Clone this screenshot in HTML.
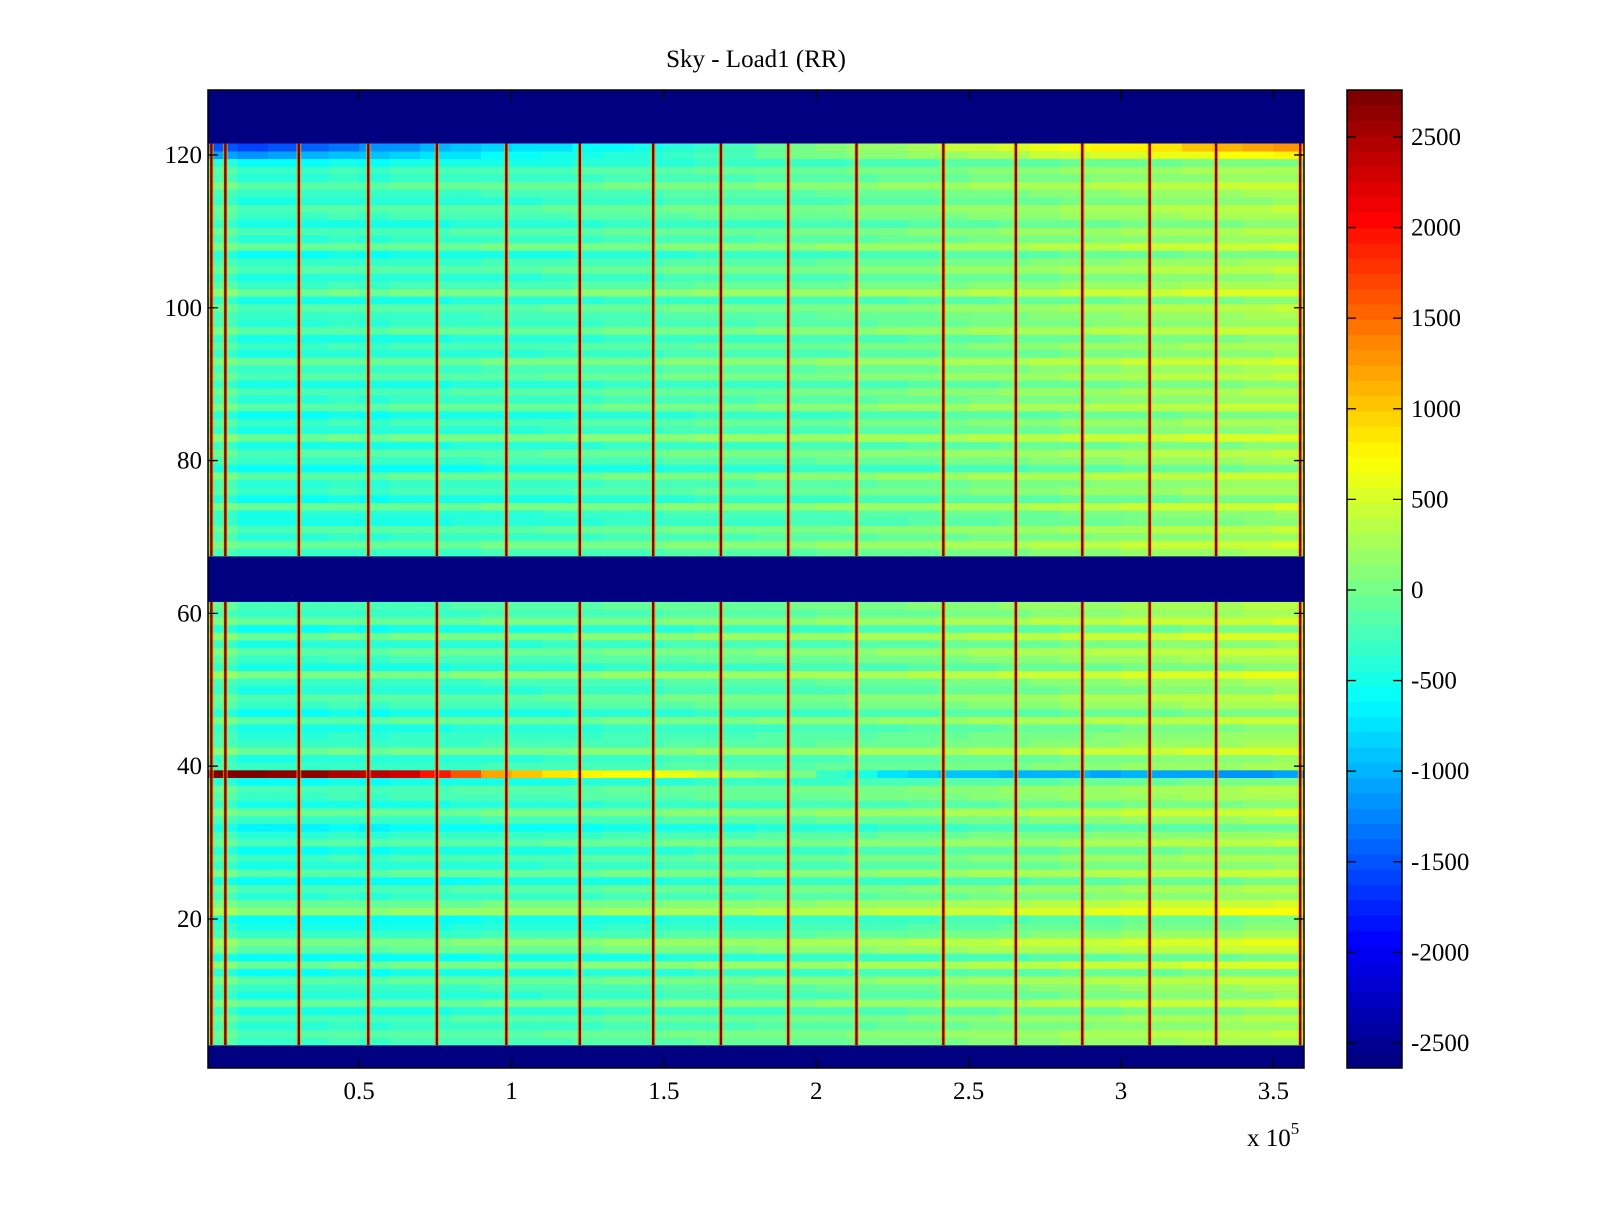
<!DOCTYPE html>
<html><head><meta charset="utf-8"><style>
body{margin:0;background:#fff;}
svg text{font-family:"Liberation Serif",serif;fill:#000;}
</style></head><body>
<svg id="fig" width="1600" height="1200" viewBox="0 0 1600 1200" xmlns="http://www.w3.org/2000/svg">
<rect width="1600" height="1200" fill="#fff"/>
<text x="756" y="67" font-size="25" text-anchor="middle">Sky - Load1 (RR)</text>
<g id="heat"></g>
<g id="axes"></g>
<g id="cbar"></g>
</svg>
<script>
// ---- data ----
const xTicks = [50000, 100000, 150000, 200000, 250000, 300000, 350000];
const xTickLabels = ["0.5", "1", "1.5", "2", "2.5", "3", "3.5"];
const yTicks = [20, 40, 60, 80, 100, 120];
const cTicks = [2500, 2000, 1500, 1000, 500, 0, -500, -1000, -1500, -2000, -2500];
const blankRows = [1, 2, 3, 62, 63, 64, 65, 66, 67, 122, 123, 124, 125, 126, 127, 128];
// column-bin trend (36 bins of 10000)
const colTrend = [-50, -200, -200, -180, -160, -180, -150, -150, -130, -120, -120, -100, -80, -50, -50, -20, 0, 0, 20, 40, 50, 80, 100, 120, 160, 180, 200, 220, 250, 270, 300, 320, 340, 360, 380, 400];
// row means, rows 4..61
const rowsLow = [-100, 0, -200, -50, -300, 100, -250, -150, 50, -350, 150, -400, 50, 200, -150, -300, -400, 300, 100, -200, -50, -400, 50, -250, -100, -350, 0, -200, -450, -150, 100, -300, -100, -50, -350, -200, -150, -250, 150, -150, -200, -300, 50, -350, -100, 0, -250, -150, 200, -300, -100, 50, -250, 150, -350, 100, -150, -50];
// row means, rows 68..121
const rowsHigh = [-150, 100, -200, 0, -300, -250, 100, -350, -100, -200, 50, -400, -150, 0, -300, 150, -250, -100, -350, 50, -200, -50, -300, 0, -150, 100, -250, -100, -300, 50, -200, -150, 0, -300, 150, -100, -250, 0, -150, -350, 100, -200, -50, -300, -100, 0, -250, -150, 50, -200, -100, -350, -500, -700];
// special rows (36 bins)
const row39 = [2700, 2700, 2600, 2600, 2500, 2400, 2300, 2000, 1600, 1200, 1000, 900, 800, 700, 700, 600, 400, 300, 200, 0, -300, -500, -700, -800, -900, -900, -1000, -1000, -1000, -1100, -1000, -1100, -1100, -1200, -1200, -1100];
const row121 = [-1500, -1600, -1500, -1400, -1300, -1200, -1200, -1000, -900, -800, -700, -700, -600, -600, -500, -400, -300, -200, -100, 0, 100, 200, 200, 300, 400, 400, 500, 600, 700, 800, 800, 900, 1000, 1100, 1200, 1300];
const row120 = [-1100, -1200, -1100, -1000, -900, -900, -800, -700, -700, -600, -600, -500, -500, -400, -400, -300, -200, -200, -100, 0, 0, 100, 100, 200, 200, 300, 300, 400, 400, 500, 500, 600, 600, 700, 700, 800];
// stripe positions (data x)
const stripes = [1500, 6100, 30200, 53000, 75500, 98300, 122400, 146500, 168700, 190800, 213200, 241700, 265500, 287300, 309400, 331200, 358800];

// ---- scales ----
const PX0 = 208, PX1 = 1304, PY0 = 90, PY1 = 1068;
const XMIN = 400, XMAX = 360050, YMIN = 0.5, YMAX = 128.5, CMIN = -2638, CMAX = 2759;
const xs = v => PX0 + (v - XMIN) / (XMAX - XMIN) * (PX1 - PX0);
const ys = v => PY0 + (YMAX - v) / (YMAX - YMIN) * (PY1 - PY0);
const CB0 = 1347, CB1 = 1402;
const cs = v => PY0 + (CMAX - v) / (CMAX - CMIN) * (PY1 - PY0);
function jet(t){
  t = Math.max(0, Math.min(1, t));
  t = Math.min(63, Math.floor(t * 64)) / 63;
  const f = x => Math.max(0, Math.min(1, x));
  const r = f(1.5 - Math.abs(4 * t - 3)), g = f(1.5 - Math.abs(4 * t - 2)), b = f(1.5 - Math.abs(4 * t - 1));
  return `rgb(${Math.round(r*255)},${Math.round(g*255)},${Math.round(b*255)})`;
}
const col = v => jet((v - CMIN) / (CMAX - CMIN));
const NS = "http://www.w3.org/2000/svg";
function mk(parent, tag, attrs){ const e = document.createElementNS(NS, tag); for (const k in attrs) e.setAttribute(k, attrs[k]); parent.appendChild(e); return e; }

const heat = document.getElementById('heat');
const bg = mk(heat, 'rect', {x: PX0, y: PY0, width: PX1 - PX0, height: PY1 - PY0, fill: col(CMIN)});


function rowVals(r){
  if (blankRows.includes(r)) return null;
  if (r === 39) return row39;
  if (r === 121) return row121;
  if (r === 120) return row120;
  let m;
  if (r >= 4 && r <= 61) m = rowsLow[r - 4];
  else if (r >= 68 && r <= 121) m = rowsHigh[r - 68];
  else return null;
  return colTrend.map(c => m + c);
}
const binW = 10000;
for (let r = 1; r <= 128; r++){
  const vals = rowVals(r);
  if (!vals) continue;
  const y0 = ys(r + 0.5), y1 = ys(r - 0.5);
  vals.forEach((v, i) => {
    const x0 = xs(Math.max(i * binW, XMIN)), x1 = xs(Math.min((i + 1) * binW, XMAX));
    const c = mk(heat, 'rect', {x: x0, y: y0, width: x1 - x0 + 0.6, height: y1 - y0 + 0.3, fill: col(v)});
    
    
  });
}
const segs = [[4, 61], [68, 121]];
stripes.forEach(s => {
  segs.forEach(([a, b]) => {
    const yt = ys(b + 0.5), yb = ys(a - 0.5);
    const h = mk(heat, 'rect', {x: xs(s) - 2.5, y: yt, width: 5, height: yb - yt, fill: col(1200), opacity: 0.6});
    
    
    const l = mk(heat, 'rect', {x: xs(s) - 1.2, y: yt, width: 2.4, height: yb - yt, fill: col(2700)});
    
    
  });
});

const ax = document.getElementById('axes');
const box = mk(ax, 'rect', {x: PX0, y: PY0, width: PX1 - PX0, height: PY1 - PY0, fill: 'none', stroke: '#000', 'stroke-width': 1.5});


xTicks.forEach((t, i) => {
  const x = xs(t);
  const tk = mk(ax, 'path', {d: `M${x},${PY1}v-10M${x},${PY0}v10`, stroke: '#000', 'stroke-width': 1.3});
  
  
  const lb = mk(ax, 'text', {x: x, y: 1099, 'font-size': 25, 'text-anchor': 'middle'});
  lb.textContent = xTickLabels[i];
  
  
});
yTicks.forEach(t => {
  const y = ys(t);
  const tk = mk(ax, 'path', {d: `M${PX0},${y}h10M${PX1},${y}h-10`, stroke: '#000', 'stroke-width': 1.3});
  
  
  const lb = mk(ax, 'text', {x: 202, y: y + 8, 'font-size': 25, 'text-anchor': 'end'});
  lb.textContent = String(t);
  
  
});
const ex = mk(ax, 'text', {x: 1247, y: 1146, 'font-size': 25});
ex.innerHTML = 'x 10<tspan dy="-12" font-size="17">5</tspan>';



const cb = document.getElementById('cbar');
for (let k = 0; k < 64; k++){
  const v0 = CMIN + k * (CMAX - CMIN) / 64, v1 = CMIN + (k + 1) * (CMAX - CMIN) / 64;
  const r = mk(cb, 'rect', {x: CB0, y: cs(v1), width: CB1 - CB0, height: cs(v0) - cs(v1) + 0.5, fill: jet((k + 0.5) / 64)});
  
  
}
const cf = mk(cb, 'rect', {x: CB0, y: PY0, width: CB1 - CB0, height: PY1 - PY0, fill: 'none', stroke: '#000', 'stroke-width': 1.5});


cTicks.forEach(t => {
  const y = cs(t);
  const tk = mk(cb, 'path', {d: `M${CB0},${y}h9M${CB1},${y}h-9`, stroke: '#000', 'stroke-width': 1.3});
  
  
  const lb = mk(cb, 'text', {x: 1411, y: y + 8, 'font-size': 25});
  lb.textContent = String(t);
  
  
});
</script>
</body></html>
